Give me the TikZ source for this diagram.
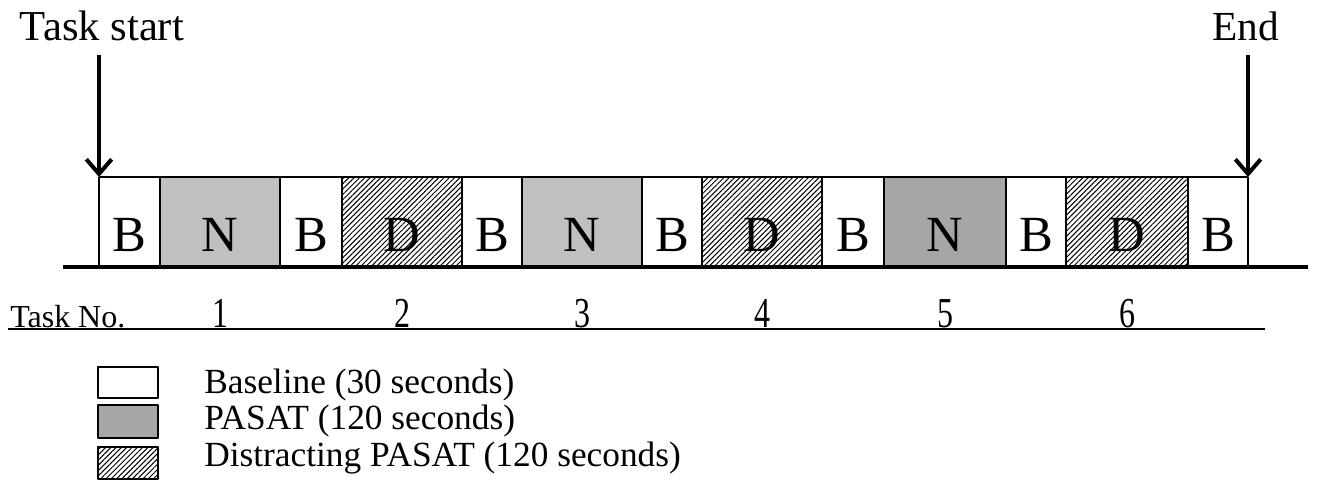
\documentclass[tikz,border=0pt]{standalone}
\usepackage{fontspec}
\setmainfont{Liberation Serif}
\usepackage{tikz}
\usetikzlibrary{arrows.meta,patterns.meta}

\definecolor{ngray}{HTML}{C0C0C0}
\definecolor{pgray}{HTML}{A6A6A6}

\tikzset{
  seg/.style={draw=black,line width=1.5pt},
  hatchfill/.style={pattern={Lines[angle=45,distance=2.8pt,line width=0.75pt]},pattern color=black},
  seglabel/.style={anchor=base,font=\fontsize{38}{38}\selectfont,inner sep=0pt},
  tasknum/.style={anchor=base,font=\fontsize{32}{32}\selectfont,inner sep=0pt,xscale=0.75},
  legtext/.style={anchor=base west,font=\fontsize{26.5}{26.5}\selectfont,inner sep=0pt},
  marker/.style={->,line width=3pt,>={Straight Barb[length=11pt,width=19pt]}}
}

\begin{document}
\begin{tikzpicture}[x=0.75pt,y=-0.75pt,line join=round]
  \useasboundingbox (0,0) rectangle (1317,495);
  % time line
  \coordinate (T0) at (99,177);
  \coordinate (T1) at (1248,177);
  \fill[ngray] (160,177) rectangle (280,267);
  \fill[ngray] (522,177) rectangle (642,267);
  \fill[pgray] (884,177) rectangle (1006,267);
  \fill[hatchfill] (342,177) rectangle (462,267);
  \fill[hatchfill] (702,177) rectangle (822,267);
  \fill[hatchfill] (1066,177) rectangle (1188,267);
  \draw[seg] (T0) -- (T1);
  \draw[seg] (99,177) -- (99,267);
  \draw[seg] (160,177) -- (160,267);
  \draw[seg] (280,177) -- (280,267);
  \draw[seg] (342,177) -- (342,267);
  \draw[seg] (462,177) -- (462,267);
  \draw[seg] (522,177) -- (522,267);
  \draw[seg] (642,177) -- (642,267);
  \draw[seg] (702,177) -- (702,267);
  \draw[seg] (822,177) -- (822,267);
  \draw[seg] (884,177) -- (884,267);
  \draw[seg] (1006,177) -- (1006,267);
  \draw[seg] (1066,177) -- (1066,267);
  \draw[seg] (1188,177) -- (1188,267);
  \draw[seg] (1248,177) -- (1248,267);
  \draw[line width=3pt] (63,267) -- (1308,267);
  % segment letters
  \node[seglabel] (l1) at (129.5,252) {B};
  \node[seglabel] (l2) at (220,252) {N};
  \node[seglabel] (l3) at (311,252) {B};
  \node[seglabel] (l4) at (402,252) {D};
  \node[seglabel] (l5) at (492,252) {B};
  \node[seglabel] (l6) at (582,252) {N};
  \node[seglabel] (l7) at (672,252) {B};
  \node[seglabel] (l8) at (762,252) {D};
  \node[seglabel] (l9) at (853,252) {B};
  \node[seglabel] (l10) at (945,252) {N};
  \node[seglabel] (l11) at (1036,252) {B};
  \node[seglabel] (l12) at (1127,252) {D};
  \node[seglabel] (l13) at (1218,252) {B};
  % start and end
  \node[font=\fontsize{32}{32}\selectfont,anchor=base] (start) at (102,41) {Task start};
  \node[font=\fontsize{31}{31}\selectfont,anchor=base] (end) at (1246,41) {End};
  \coordinate (S0) at (99,55);
  \coordinate (E0) at (1248,55);
  \draw[marker] (S0) -- (T0);
  \draw[marker] (E0) -- (T1);
  % task numbers
  \node[font=\fontsize{24}{24}\selectfont,anchor=base west,inner sep=0pt] (taskno) at (10,327) {Task No.};
  \draw[line width=1.2pt] (8,329) -- (1265,329);
  \node[tasknum] (n1) at (220,327) {1};
  \node[tasknum] (n2) at (402,327) {2};
  \node[tasknum] (n3) at (582,327) {3};
  \node[tasknum] (n4) at (762,327) {4};
  \node[tasknum] (n5) at (945,327) {5};
  \node[tasknum] (n6) at (1127,327) {6};
  % legend
  \draw[seg,fill=white] (98,367) rectangle (158,398);
  \draw[seg,fill=pgray] (98,405) rectangle (158,438);
  \fill[hatchfill] (98,447) rectangle (158,479);
  \draw[seg] (98,447) rectangle (158,479);
  \node[legtext] (lb) at (204,393) {Baseline (30 seconds)};
  \node[legtext] (lp) at (204,429) {PASAT (120 seconds)};
  \node[legtext] (ld) at (204,466) {Distracting PASAT (120 seconds)};
\end{tikzpicture}
\end{document}
